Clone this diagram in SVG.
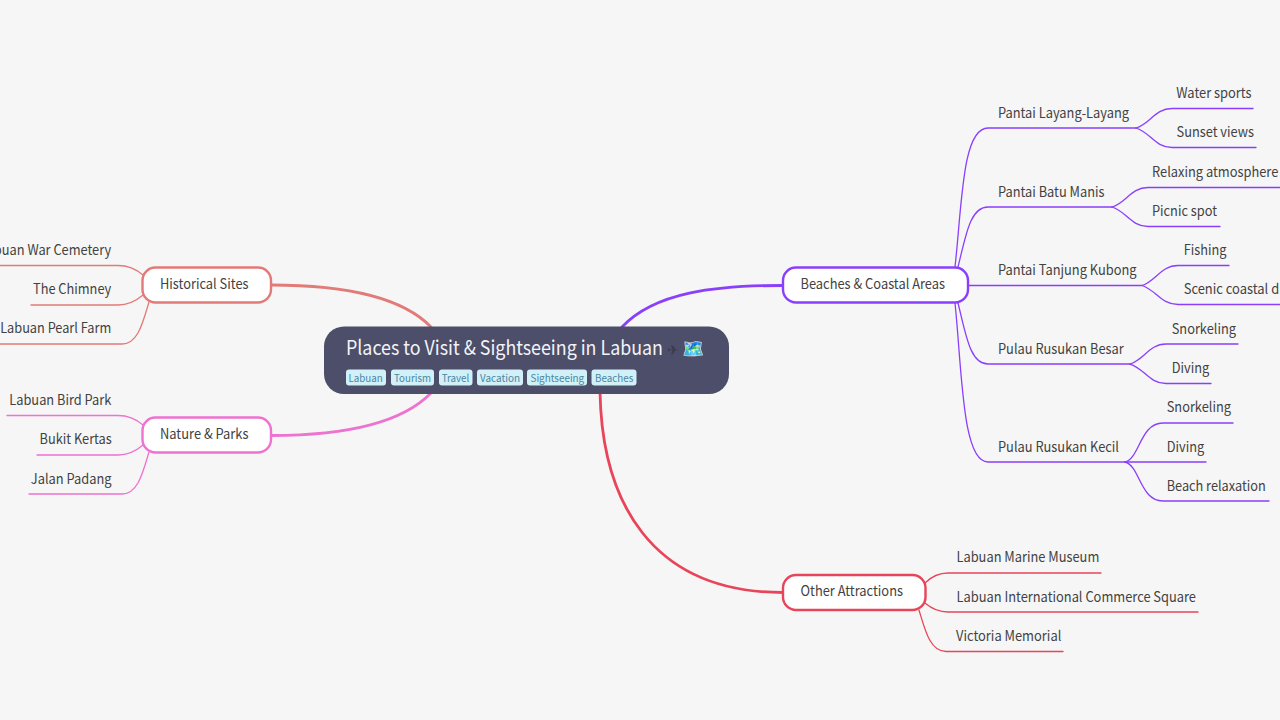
<svg xmlns="http://www.w3.org/2000/svg" width="1280" height="720" viewBox="0 0 1280 720">
<style>
text{font-family:"Noto Sans CJK SC","Noto Sans",sans-serif;font-size:14px;fill:#424242;}
.c{fill:none;stroke-linecap:round}
.p{stroke:#8a3ffc}.r{stroke:#e8455a}.h{stroke:#e27a78}.n{stroke:#ee72d0}
.w1{stroke-width:1.3}.w3{stroke-width:2.8}
.box{fill:#fff;stroke-width:2.4}
.tag{fill:#d2f0f8}
.tt{font-size:10.5px;fill:#4a87a2}
</style>
<rect width="1280" height="720" fill="#f6f6f6"/>
<g id="connectors">
<path class="c p w3" d="M783 285.500C715 285.500 655 292 622 327"/>
<path class="c r w3" d="M600 392C602 500 650 592.500 783 592.500"/>
<path class="c h w3" d="M271 285C340 285 400 295 431 327"/>
<path class="c n w3" d="M271 435.500C340 435.500 400 425 431 393"/>
<g class="c p w1" fill="none">
<path d="M955 267C962 205 962 128 988 128H1136"/>
<path d="M958 267C966 235 970 207 988 207H1112"/>
<path d="M968 285.500H1142"/>
<path d="M958 303C966 335 970 364 988 364H1130"/>
<path d="M955 303C962 370 962 462 988 462H1125"/>
<path d="M1136 128C1150 124 1155 108.500 1172 108.500H1253"/>
<path d="M1136 128C1150 132 1155 147.500 1172 147.500H1256"/>
<path d="M1112 207C1126 203 1131 187.500 1148 187.500H1280"/>
<path d="M1112 207C1126 211 1131 226.500 1148 226.500H1220"/>
<path d="M1142 285.500C1156 281 1161 265.500 1178 265.500H1229"/>
<path d="M1142 285.500C1156 290 1161 304.500 1178 304.500H1280"/>
<path d="M1130 364C1144 360 1149 344 1166 344H1238"/>
<path d="M1130 364C1144 368 1149 383.500 1166 383.500H1211"/>
<path d="M1125 462C1140 458 1140 423 1163 423H1233"/>
<path d="M1125 462H1206"/>
<path d="M1125 462C1140 466 1140 501 1163 501H1269"/>
</g>
<g class="c r w1" fill="none">
<path d="M925 583C932 576 940 573 948 573H1101"/>
<path d="M925 603C932 609 940 612 948 612H1198"/>
<path d="M919 610C925 630 930 651.500 946 651.500H1063"/>
</g>
<g class="c h w1" fill="none">
<path d="M143 275C136 269 128 265.500 118 265.500H0"/>
<path d="M143 295C136 301 128 305 118 305H31"/>
<path d="M149 302C143 322 138 344 122 344H0"/>
</g>
<g class="c n w1" fill="none">
<path d="M143 425C136 419 128 415.500 118 415.500H7"/>
<path d="M143 445C136 451 128 455 118 455H37"/>
<path d="M149 452C143 472 138 494 122 494H29"/>
</g>
</g>
<g id="root">
<rect x="324" y="326.500" width="405" height="67.500" rx="20" fill="#4c4e6a"/>
<text x="346" y="354.500" textLength="317" lengthAdjust="spacingAndGlyphs" style="font-size:20px;fill:#f4f4f6">Places to Visit &amp; Sightseeing in Labuan</text>
<text x="667" y="355" style="font-size:14px;fill:#3a3b50">✈</text>
<text x="682" y="355" style="font-size:18px;font-family:'Noto Color Emoji',sans-serif">🗺️</text>
<rect class="tag" x="346" y="369.500" width="40" height="16" rx="3"/><text class="tt" x="348.500" y="381.500" textLength="34.300" lengthAdjust="spacingAndGlyphs">Labuan</text>
<rect class="tag" x="391" y="369.500" width="43" height="16" rx="3"/><text class="tt" x="394" y="381.500" textLength="37" lengthAdjust="spacingAndGlyphs">Tourism</text>
<rect class="tag" x="439" y="369.500" width="33.500" height="16" rx="3"/><text class="tt" x="441.700" y="381.500" textLength="27.600" lengthAdjust="spacingAndGlyphs">Travel</text>
<rect class="tag" x="477" y="369.500" width="46" height="16" rx="3"/><text class="tt" x="480" y="381.500" textLength="40" lengthAdjust="spacingAndGlyphs">Vacation</text>
<rect class="tag" x="527" y="369.500" width="60" height="16" rx="3"/><text class="tt" x="530.500" y="381.500" textLength="53.700" lengthAdjust="spacingAndGlyphs">Sightseeing</text>
<rect class="tag" x="591.500" y="369.500" width="45" height="16" rx="3"/><text class="tt" x="595" y="381.500" textLength="38.300" lengthAdjust="spacingAndGlyphs">Beaches</text>
</g>
<g id="beaches"><rect class="box p" x="783" y="267.500" width="185" height="35" rx="13"/><text x="800.500" y="288.500" textLength="144.500" lengthAdjust="spacingAndGlyphs">Beaches &amp; Coastal Areas</text></g>
<g id="other"><rect class="box r" x="783" y="575" width="142.500" height="35" rx="13"/><text x="800.500" y="596" textLength="102.500" lengthAdjust="spacingAndGlyphs">Other Attractions</text></g>
<g id="historical"><rect class="box h" x="142.500" y="267.500" width="128.500" height="35" rx="13"/><text x="160" y="288.500" textLength="88.500" lengthAdjust="spacingAndGlyphs">Historical Sites</text></g>
<g id="nature"><rect class="box n" x="142.500" y="417.500" width="128.500" height="35" rx="13"/><text x="160" y="438.500" textLength="88.500" lengthAdjust="spacingAndGlyphs">Nature &amp; Parks</text></g>
<g id="b1"><text x="998" y="118" textLength="131" lengthAdjust="spacingAndGlyphs">Pantai Layang-Layang</text></g>
<g id="b2"><text x="998" y="196.500" textLength="106.500" lengthAdjust="spacingAndGlyphs">Pantai Batu Manis</text></g>
<g id="b3"><text x="998" y="275.300" textLength="138.500" lengthAdjust="spacingAndGlyphs">Pantai Tanjung Kubong</text></g>
<g id="b4"><text x="998" y="353.500" textLength="125.700" lengthAdjust="spacingAndGlyphs">Pulau Rusukan Besar</text></g>
<g id="b5"><text x="998" y="451.500" textLength="121" lengthAdjust="spacingAndGlyphs">Pulau Rusukan Kecil</text></g>
<g id="b11"><text x="1176.300" y="98" textLength="75.300" lengthAdjust="spacingAndGlyphs">Water sports</text></g>
<g id="b12"><text x="1176.500" y="137" textLength="77.500" lengthAdjust="spacingAndGlyphs">Sunset views</text></g>
<g id="b21"><text x="1152" y="176.500" textLength="126.300" lengthAdjust="spacingAndGlyphs">Relaxing atmosphere</text></g>
<g id="b22"><text x="1152" y="215.500" textLength="65" lengthAdjust="spacingAndGlyphs">Picnic spot</text></g>
<g id="b31"><text x="1183.700" y="255.300" textLength="42.700" lengthAdjust="spacingAndGlyphs">Fishing</text></g>
<g id="b32"><text x="1183.700" y="294.300" textLength="124" lengthAdjust="spacingAndGlyphs">Scenic coastal drives</text></g>
<g id="b41"><text x="1171.700" y="333.500" textLength="64.300" lengthAdjust="spacingAndGlyphs">Snorkeling</text></g>
<g id="b42"><text x="1171.700" y="373" textLength="37.500" lengthAdjust="spacingAndGlyphs">Diving</text></g>
<g id="b51"><text x="1166.700" y="412.300" textLength="64.300" lengthAdjust="spacingAndGlyphs">Snorkeling</text></g>
<g id="b52"><text x="1166.700" y="451.500" textLength="37.500" lengthAdjust="spacingAndGlyphs">Diving</text></g>
<g id="b53"><text x="1166.700" y="490.500" textLength="99" lengthAdjust="spacingAndGlyphs">Beach relaxation</text></g>
<g id="o1"><text x="956.500" y="562.400" textLength="142.800" lengthAdjust="spacingAndGlyphs">Labuan Marine Museum</text></g>
<g id="o2"><text x="956.500" y="601.500" textLength="239.500" lengthAdjust="spacingAndGlyphs">Labuan International Commerce Square</text></g>
<g id="o3"><text x="956" y="640.500" textLength="105.300" lengthAdjust="spacingAndGlyphs">Victoria Memorial</text></g>
<g id="h1"><text x="-20.300" y="255.400" textLength="131.500" lengthAdjust="spacingAndGlyphs">Labuan War Cemetery</text></g>
<g id="h2"><text x="33" y="294.400" textLength="78.200" lengthAdjust="spacingAndGlyphs">The Chimney</text></g>
<g id="h3"><text x="0.200" y="333.400" textLength="111" lengthAdjust="spacingAndGlyphs">Labuan Pearl Farm</text></g>
<g id="n1"><text x="9.300" y="405.400" textLength="102" lengthAdjust="spacingAndGlyphs">Labuan Bird Park</text></g>
<g id="n2"><text x="39.500" y="444.400" textLength="72.300" lengthAdjust="spacingAndGlyphs">Bukit Kertas</text></g>
<g id="n3"><text x="30.800" y="483.500" textLength="80.700" lengthAdjust="spacingAndGlyphs">Jalan Padang</text></g>
</svg>
